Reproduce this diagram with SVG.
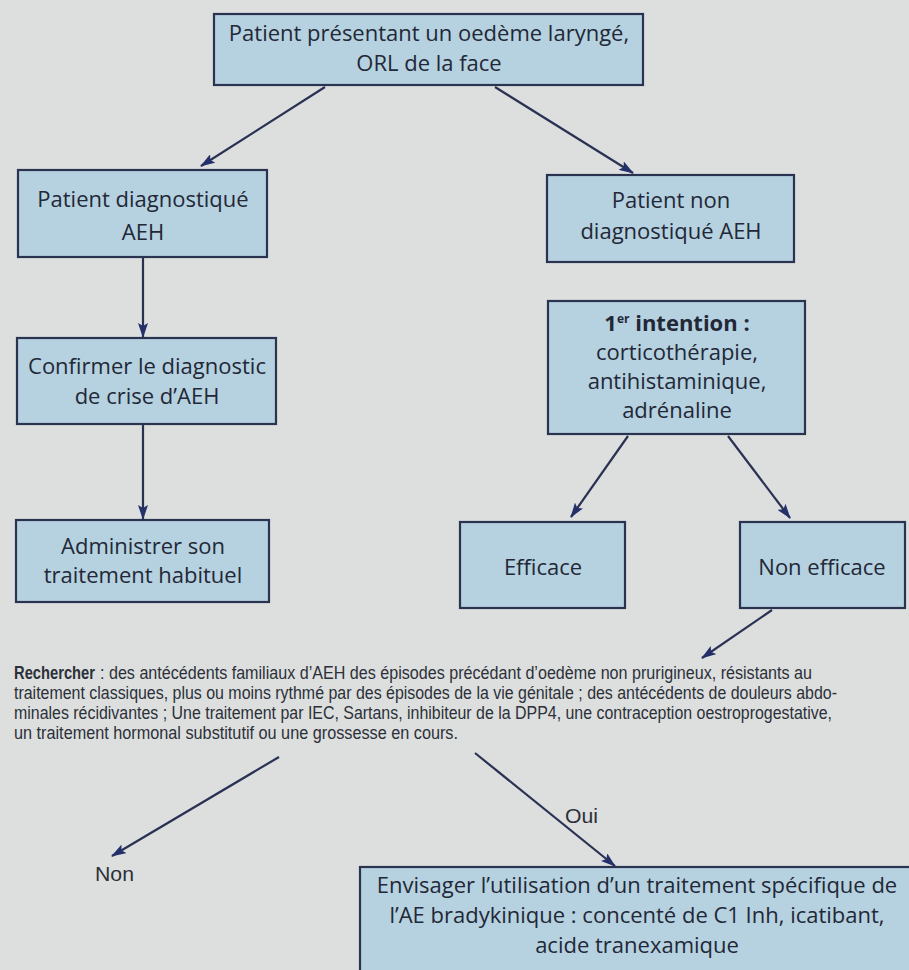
<svg xmlns="http://www.w3.org/2000/svg" width="909" height="970" viewBox="0 0 909 970">
<defs>
<style>
.bg{fill:#dcdfde}
.box{fill:#b6d1df;stroke:#2a3450;stroke-width:2.2}
.t{font-family:"Open Sans","Noto Sans","Liberation Sans",sans-serif;font-size:22px;fill:#222837;text-anchor:middle}
.b{font-weight:bold}
.p{font-family:"Liberation Sans Narrow","Liberation Sans",sans-serif;font-size:16px;fill:#2c3039}
.lbl{font-family:"Liberation Sans Narrow","Liberation Sans",sans-serif;font-size:21px;fill:#2c3039}
.c{stroke:#2a3152;stroke-width:2.2;fill:none;marker-end:url(#ah)}
</style>
<marker id="ah" viewBox="0 0 15 10" refX="14" refY="5" markerWidth="15" markerHeight="10" markerUnits="userSpaceOnUse" orient="auto">
<path d="M0,0 L15,5 L0,10 L3,5 z" fill="#24306a"/>
</marker>
</defs>
<rect class="bg" x="0" y="0" width="909" height="970"/>

<g id="connectors">
<line class="c" x1="325" y1="87" x2="201" y2="166"/>
<line class="c" x1="495" y1="87" x2="633" y2="173"/>
<line class="c" x1="143" y1="258" x2="143" y2="337"/>
<line class="c" x1="143" y1="425" x2="143" y2="519"/>
<line class="c" x1="628" y1="436" x2="571" y2="517"/>
<line class="c" x1="728" y1="436" x2="790" y2="518"/>
<line class="c" x1="772" y1="610" x2="702" y2="658"/>
<line class="c" x1="279" y1="757" x2="112" y2="856"/>
<line class="c" x1="475" y1="753" x2="615" y2="866"/>
</g>

<g id="n-top">
<rect class="box" x="214" y="14" width="429" height="71"/>
<text class="t" x="429" y="41">Patient présentant un oedème laryngé,</text>
<text class="t" x="429" y="71">ORL de la face</text>
</g>

<g id="n-diag">
<rect class="box" x="18" y="170" width="249" height="87"/>
<text class="t" x="143" y="207">Patient diagnostiqué</text>
<text class="t" x="143" y="240">AEH</text>
</g>

<g id="n-confirm">
<rect class="box" x="17" y="338" width="259" height="86"/>
<text class="t" x="147" y="374">Confirmer le diagnostic</text>
<text class="t" x="147" y="404">de crise d’AEH</text>
</g>

<g id="n-admin">
<rect class="box" x="16" y="520" width="253" height="82"/>
<text class="t" x="143" y="554">Administrer son</text>
<text class="t" x="143" y="583">traitement habituel</text>
</g>

<g id="n-nondiag">
<rect class="box" x="547" y="175" width="247" height="87"/>
<text class="t" x="671" y="208">Patient non</text>
<text class="t" x="671" y="239">diagnostiqué AEH</text>
</g>

<g id="n-intention">
<rect class="box" x="548" y="301" width="257" height="133"/>
<text class="t b" x="677" y="331">1<tspan font-size="12" dy="-8">er</tspan><tspan dy="8"> intention :</tspan></text>
<text class="t" x="677" y="360">corticothérapie,</text>
<text class="t" x="677" y="389">antihistaminique,</text>
<text class="t" x="677" y="418">adrénaline</text>
</g>

<g id="n-efficace">
<rect class="box" x="460" y="522" width="165" height="86"/>
<text class="t" x="543" y="575">Efficace</text>
</g>

<g id="n-nonefficace">
<rect class="box" x="740" y="522" width="165" height="86"/>
<text class="t" x="822" y="575">Non efficace</text>
</g>

<g id="n-rechercher">
<text class="p b" transform="translate(14 679) scale(1 1.12)" x="0" y="0" textLength="81" lengthAdjust="spacingAndGlyphs">Rechercher</text>
<text class="p" transform="translate(100 679) scale(1 1.12)" x="0" y="0" textLength="712" lengthAdjust="spacingAndGlyphs">: des antécédents familiaux d’AEH des épisodes précédant d’oedème non prurigineux, résistants au</text>
<text class="p" transform="translate(14 699) scale(1 1.12)" x="0" y="0" textLength="823" lengthAdjust="spacingAndGlyphs">traitement classiques, plus ou moins rythmé par des épisodes de la vie génitale ; des antécédents de douleurs abdo-</text>
<text class="p" transform="translate(14 719) scale(1 1.12)" x="0" y="0" textLength="818" lengthAdjust="spacingAndGlyphs">minales récidivantes ; Une traitement par IEC, Sartans, inhibiteur de la DPP4, une contraception oestroprogestative,</text>
<text class="p" transform="translate(14 739) scale(1 1.12)" x="0" y="0" textLength="444" lengthAdjust="spacingAndGlyphs">un traitement hormonal substitutif ou une grossesse en cours.</text>
</g>

<g id="l-oui"><text class="lbl" x="565" y="823" textLength="33" lengthAdjust="spacingAndGlyphs">Oui</text></g>
<g id="l-non"><text class="lbl" x="95" y="881" textLength="39" lengthAdjust="spacingAndGlyphs">Non</text></g>

<g id="n-specific">
<rect class="box" x="360" y="867" width="560" height="110"/>
<text class="t" x="637" y="893">Envisager l’utilisation d’un traitement spécifique de</text>
<text class="t" x="637" y="923">l’AE bradykinique : concenté de C1 Inh, icatibant,</text>
<text class="t" x="637" y="953">acide tranexamique</text>
</g>
</svg>
